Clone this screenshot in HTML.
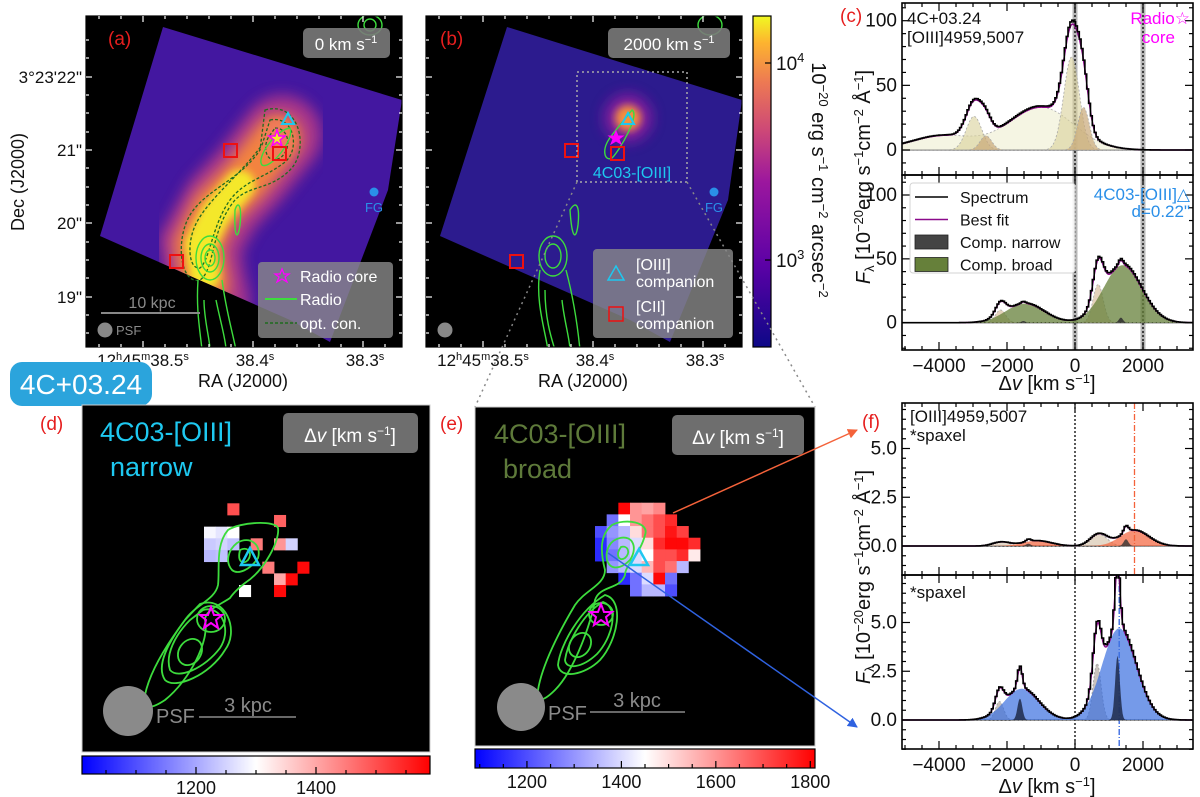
<!DOCTYPE html>
<html><head><meta charset="utf-8"><style>
html,body{margin:0;padding:0;background:#fff}
svg{display:block;font-family:"Liberation Sans","DejaVu Sans",sans-serif}
</style></head><body>
<svg id="fig" width="1200" height="797" viewBox="0 0 1200 797" xmlns="http://www.w3.org/2000/svg">
<defs>
<filter id="blur6" x="-50%" y="-50%" width="200%" height="200%"><feGaussianBlur stdDeviation="7"/></filter>
<filter id="blur3" x="-50%" y="-50%" width="200%" height="200%"><feGaussianBlur stdDeviation="4"/></filter>
<linearGradient id="plasma" x1="0" y1="1" x2="0" y2="0">
<stop offset="0" stop-color="#0d0887"/><stop offset="0.25" stop-color="#5c01a6"/><stop offset="0.5" stop-color="#9c179e"/><stop offset="0.65" stop-color="#cc4778"/><stop offset="0.8" stop-color="#ed7953"/><stop offset="0.92" stop-color="#fdb42f"/><stop offset="1" stop-color="#f0f921"/></linearGradient>
<linearGradient id="bwr" x1="0" y1="0" x2="1" y2="0"><stop offset="0" stop-color="#0000ff"/><stop offset="0.5" stop-color="#ffffff"/><stop offset="1" stop-color="#ff0000"/></linearGradient>
<linearGradient id="bwr2" x1="0" y1="0" x2="1" y2="0"><stop offset="0" stop-color="#0000ff"/><stop offset="0.5" stop-color="#ffffff"/><stop offset="1" stop-color="#ff0000"/></linearGradient>
<clipPath id="clipA"><rect x="86" y="16" width="316" height="331"/></clipPath>
<clipPath id="clipB"><rect x="426" y="16" width="316" height="331"/></clipPath>
<clipPath id="fieldA"><polygon points="163,27 402,100 388,190 330,342 290,320 100,236"/></clipPath>
<clipPath id="fieldB"><polygon points="507,27 742,100 728,200 670,342 630,320 440,236"/></clipPath>
<clipPath id="clipC1"><rect x="902" y="3" width="291" height="172"/></clipPath>
<clipPath id="clipC2"><rect x="902" y="175" width="291" height="175"/></clipPath>
<clipPath id="clipF1"><rect x="902" y="403" width="291" height="172"/></clipPath>
<clipPath id="clipF2"><rect x="902" y="575" width="291" height="174"/></clipPath>
<marker id="arrR" markerWidth="10" markerHeight="10" refX="9" refY="5" orient="auto" markerUnits="userSpaceOnUse"><path d="M0,0 L10,5 L0,10 z" fill="#f4623a"/></marker>
<marker id="arrB" markerWidth="10" markerHeight="10" refX="9" refY="5" orient="auto" markerUnits="userSpaceOnUse"><path d="M0,0 L10,5 L0,10 z" fill="#2f62e0"/></marker>
</defs>

<!-- Panel (a) -->
<g>
<rect x="86" y="16" width="316" height="331" fill="#000"/>
<g clip-path="url(#clipA)">
<polygon points="163,27 402,100 388,190 330,342 290,320 100,236" fill="#4317a0"/>
<g clip-path="url(#fieldA)">
<polyline points="282,135 250,175 222,205 200,245 205,280 210,300" fill="none" stroke="#c13c86" stroke-width="80" stroke-linecap="round" filter="url(#blur6)" opacity="0.8"/>
<polyline points="278,138 245,180 215,210 198,245 205,285" fill="none" stroke="#f3833f" stroke-width="48" stroke-linecap="round" filter="url(#blur6)"/>
<polyline points="240,185 215,215 200,245 205,275" fill="none" stroke="#f4e82a" stroke-width="30" stroke-linecap="round" filter="url(#blur3)"/>
<ellipse cx="278" cy="140" rx="16" ry="20" fill="#f07a5c" filter="url(#blur3)"/>
</g>
<g fill="none" stroke="#1f6b1f" stroke-width="1.3" stroke-dasharray="3,2">
<path d="M265,110 C300,100 310,150 290,170 C270,190 250,185 235,200 C210,230 215,270 200,280 C180,285 175,240 190,215 C205,190 240,180 260,150 Z"/>
<path d="M270,120 C295,115 300,150 285,162 C265,178 245,180 230,200 C212,225 210,260 200,268 C188,270 186,240 198,220 C212,196 240,175 262,145 Z"/>
<path d="M275,128 C290,128 292,150 280,158 C268,165 262,150 268,138 Z"/>
</g>
<g fill="none" stroke="#3ddc3d" stroke-width="1.4">
<path d="M290,128 C295,140 270,170 262,165 C256,158 275,130 290,128 Z"/>
<ellipse cx="210" cy="258" rx="14" ry="22"/><ellipse cx="210" cy="258" rx="9" ry="14"/><ellipse cx="210" cy="258" rx="5" ry="8"/>
<path d="M198,280 C196,310 200,330 202,350 M222,280 C226,310 232,330 236,350 M204,300 C204,320 210,340 210,350 M216,300 C220,320 226,340 226,350"/>
<path d="M235,210 C238,200 242,205 240,225 C238,240 234,240 235,210 Z"/>
<ellipse cx="370" cy="25" rx="12" ry="10"/><ellipse cx="370" cy="25" rx="6" ry="6"/>
</g>
</g>
<polygon points="288,113 282,124 294,124" fill="none" stroke="#1ec8f0" stroke-width="2"/>
<polygon points="277,130 279,136 285,136 280,140 282,146 277,142 272,146 274,140 269,136 275,136" fill="#f4e82a" stroke="#ff00ff" stroke-width="1.5"/>
<rect x="224" y="144" width="13" height="13" fill="none" stroke="#ee1111" stroke-width="2"/>
<rect x="273" y="147" width="13" height="13" fill="none" stroke="#ee1111" stroke-width="2"/>
<rect x="170" y="255" width="13" height="13" fill="none" stroke="#ee1111" stroke-width="2"/>
<circle cx="374" cy="192" r="4.5" fill="#2a8fe8"/>
<text x="374" y="212" font-size="13" fill="#2a8fe8" text-anchor="middle">FG</text>
<rect x="303" y="28" width="87" height="30" rx="5" fill="#7a7a7a" opacity="0.9"/>
<text x="346" y="50" font-size="17" fill="#fff" text-anchor="middle">0 km s<tspan dy="-7" font-size="11">−1</tspan></text>
<text x="108" y="45" font-size="19" fill="#e61e1e">(a)</text>
<line x1="101" y1="313" x2="200" y2="313" stroke="#888" stroke-width="2"/>
<text x="152" y="308" font-size="16" fill="#8a8a8a" text-anchor="middle">10 kpc</text>
<circle cx="105" cy="330" r="7.5" fill="#888"/>
<text x="116" y="335" font-size="13" fill="#8a8a8a">PSF</text>
<g>
<rect x="258" y="262" width="135" height="76" rx="4" fill="#8a8a8a" opacity="0.8"/>
<polygon points="282,269 284,274 289,274 285,277 287,282 282,279 277,282 279,277 275,274 280,274" fill="none" stroke="#ff00ff" stroke-width="1.3"/>
<text x="300" y="282" font-size="16" fill="#fff">Radio core</text>
<line x1="265" y1="299" x2="297" y2="299" stroke="#3ddc3d" stroke-width="2"/>
<text x="300" y="305" font-size="16" fill="#fff">Radio</text>
<line x1="265" y1="323" x2="297" y2="323" stroke="#1f6b1f" stroke-width="1.5" stroke-dasharray="3,2"/>
<text x="300" y="329" font-size="16" fill="#fff">opt. con.</text>
</g>
<rect x="86" y="16" width="316" height="331" fill="none" stroke="#000" stroke-width="1.2"/>
<g id="ticksA"></g>
<g font-size="17" fill="#111">
<text x="82" y="83" text-anchor="end">3°23'22"</text>
<text x="82" y="156" text-anchor="end">21"</text>
<text x="82" y="229" text-anchor="end">20"</text>
<text x="82" y="303" text-anchor="end">19"</text>
<text x="143" y="366" text-anchor="middle">12<tspan dy="-6" font-size="11">h</tspan><tspan dy="6">45</tspan><tspan dy="-6" font-size="11">m</tspan><tspan dy="6">38.5</tspan><tspan dy="-6" font-size="11">s</tspan></text>
<text x="255" y="366" text-anchor="middle">38.4<tspan dy="-6" font-size="11">s</tspan></text>
<text x="365" y="366" text-anchor="middle">38.3<tspan dy="-6" font-size="11">s</tspan></text>
<text x="243" y="387" text-anchor="middle" font-size="18">RA (J2000)</text>
<text transform="translate(24,182) rotate(-90)" text-anchor="middle" font-size="18">Dec (J2000)</text>
</g>
</g>

<!-- Panel (b) -->
<g>
<rect x="426" y="16" width="316" height="331" fill="#000"/>
<g clip-path="url(#clipB)">
<polygon points="507,27 742,100 728,200 670,342 630,320 440,236" fill="#2c1b8e"/>
<g clip-path="url(#fieldB)">
<circle cx="628" cy="118" r="24" fill="#8e1ca0" filter="url(#blur6)" opacity="0.9"/>
<circle cx="628" cy="118" r="13" fill="#f4913e" filter="url(#blur3)"/>
</g>
<g fill="none" stroke="#3ddc3d" stroke-width="1.4">
<path d="M632,110 C640,115 620,150 612,158 C605,162 600,150 612,135 Z"/>
<ellipse cx="553" cy="256" rx="14" ry="20"/><ellipse cx="553" cy="256" rx="8" ry="12"/>
<path d="M540,270 C535,300 545,330 548,350 M566,270 C574,300 578,330 580,350 M545,290 C545,320 552,340 555,350 M562,300 C564,320 570,340 570,350"/>
<path d="M570,210 C576,200 580,205 578,225 C576,240 572,240 570,210 Z"/>
<ellipse cx="710" cy="25" rx="12" ry="10"/>
</g>
</g>
<polygon points="628,113 622,124 634,124" fill="none" stroke="#1ec8f0" stroke-width="2"/>
<polygon points="616,131 618,136 623,136 619,139 621,144 616,141 611,144 613,139 609,136 614,136" fill="#ff00ff" stroke="#ff00ff" stroke-width="1"/>
<rect x="565" y="144" width="13" height="13" fill="none" stroke="#ee1111" stroke-width="2"/>
<rect x="611" y="147" width="13" height="13" fill="none" stroke="#ee1111" stroke-width="2"/>
<rect x="510" y="255" width="13" height="13" fill="none" stroke="#ee1111" stroke-width="2"/>
<circle cx="714" cy="192" r="4.5" fill="#2a8fe8"/>
<text x="714" y="212" font-size="13" fill="#2a8fe8" text-anchor="middle">FG</text>
<rect x="577" y="72" width="110" height="110" fill="none" stroke="#aaa" stroke-width="1.5" stroke-dasharray="2,3"/>
<text x="632" y="178" font-size="16" fill="#1ec8f0" text-anchor="middle">4C03-[OIII]</text>
<rect x="608" y="28" width="122" height="30" rx="5" fill="#7a7a7a" opacity="0.9"/>
<text x="669" y="50" font-size="17" fill="#fff" text-anchor="middle">2000 km s<tspan dy="-7" font-size="11">−1</tspan></text>
<text x="440" y="45" font-size="19" fill="#e61e1e">(b)</text>
<circle cx="445" cy="330" r="7.5" fill="#888"/>
<g>
<rect x="593" y="249" width="140" height="89" rx="4" fill="#8a8a8a" opacity="0.8"/>
<polygon points="616,266 608,280 624,280" fill="none" stroke="#1ec8f0" stroke-width="1.5"/>
<text x="636" y="270" font-size="16" fill="#fff">[OIII]</text><text x="636" y="287" font-size="16" fill="#fff">companion</text>
<rect x="609" y="307" width="14" height="14" fill="none" stroke="#ee1111" stroke-width="1.5"/>
<text x="636" y="312" font-size="16" fill="#fff">[CII]</text><text x="636" y="329" font-size="16" fill="#fff">companion</text>
</g>
<rect x="426" y="16" width="316" height="331" fill="none" stroke="#000" stroke-width="1.2"/>
<g id="ticksB"></g>
<g font-size="17" fill="#111">
<text x="483" y="366" text-anchor="middle">12<tspan dy="-6" font-size="11">h</tspan><tspan dy="6">45</tspan><tspan dy="-6" font-size="11">m</tspan><tspan dy="6">38.5</tspan><tspan dy="-6" font-size="11">s</tspan></text>
<text x="595" y="366" text-anchor="middle">38.4<tspan dy="-6" font-size="11">s</tspan></text>
<text x="705" y="366" text-anchor="middle">38.3<tspan dy="-6" font-size="11">s</tspan></text>
<text x="583" y="387" text-anchor="middle" font-size="18">RA (J2000)</text>
</g>
</g>

<!-- colorbar -->
<g>
<rect x="753" y="16" width="18" height="331" fill="url(#plasma)" stroke="#000" stroke-width="1.2"/>
<line x1="765" y1="63" x2="771" y2="63" stroke="#000" stroke-width="1.2"/>
<line x1="765" y1="260" x2="771" y2="260" stroke="#000" stroke-width="1.2"/>
<text x="776" y="70" font-size="19" fill="#111">10<tspan dy="-8" font-size="13">4</tspan></text>
<text x="776" y="267" font-size="19" fill="#111">10<tspan dy="-8" font-size="13">3</tspan></text>
<text transform="translate(812,180) rotate(90)" text-anchor="middle" font-size="20" fill="#111">10<tspan dy="-7" font-size="13">−20</tspan><tspan dy="7"> erg s</tspan><tspan dy="-7" font-size="13">−1</tspan><tspan dy="7"> cm</tspan><tspan dy="-7" font-size="13">−2</tspan><tspan dy="7"> arcsec</tspan><tspan dy="-7" font-size="13">−2</tspan></text>
</g>

<line x1="577" y1="182" x2="475" y2="407" stroke="#888" stroke-width="1.5" stroke-dasharray="2,4"/>
<line x1="687" y1="182" x2="815" y2="407" stroke="#888" stroke-width="1.5" stroke-dasharray="2,4"/>

<rect x="10" y="362" width="142" height="44" rx="12" fill="#2ba4dc"/>
<text x="81" y="394" font-size="28" fill="#fff" text-anchor="middle">4C+03.24</text>

<!-- Panel (d) -->
<g>
<rect x="82" y="405" width="348" height="347" fill="#000" stroke="#ccc" stroke-width="1"/>
<g id="cellsD"></g>
<g fill="none" stroke="#3ddc3d" stroke-width="1.8">
<path d="M228,530 C240,522 275,520 278,528 C280,540 265,570 245,583 C238,588 232,595 230,598 C220,605 205,610 205,620 C210,640 190,680 165,700 C150,710 140,710 145,695 C150,670 170,640 185,620 C195,605 215,600 218,585 C220,570 215,545 228,530 Z"/>
<path d="M237,543 C250,535 262,545 258,558 C250,570 238,575 232,570 C225,562 228,550 237,543 Z"/>
<path d="M240,550 C248,546 253,553 248,560 C243,565 237,562 240,550 Z"/>
<path d="M200,604 C225,595 240,630 225,650 C210,675 175,690 165,680 C155,665 170,640 185,620 Z"/>
<path d="M203,610 C222,605 232,630 220,648 C205,668 178,680 170,670 C165,655 175,635 190,620 Z"/>
<ellipse cx="211" cy="619" rx="14" ry="13"/>
<ellipse cx="190" cy="652" rx="11" ry="14" transform="rotate(35 190 652)"/>
</g>
<polygon points="250,548 241,565 259,565" fill="none" stroke="#1ec8f0" stroke-width="2.5"/>
<polygon points="211,607 214,615 222,615 216,620 218,628 211,623 204,628 206,620 200,615 208,615" fill="none" stroke="#ff00ff" stroke-width="2"/>
<circle cx="128" cy="711" r="25" fill="#8a8a8a"/>
<text x="156" y="723" font-size="20" fill="#8a8a8a">PSF</text>
<line x1="199" y1="717" x2="296" y2="717" stroke="#8a8a8a" stroke-width="1.5"/>
<text x="248" y="712" font-size="20" fill="#8a8a8a" text-anchor="middle">3 kpc</text>
<text x="100" y="441" font-size="27" fill="#1ec8f0">4C03-[OIII]</text>
<text x="110" y="476" font-size="27" fill="#1ec8f0">narrow</text>
<rect x="283" y="413" width="135" height="40" rx="5" fill="#6e6e6e"/>
<text x="350" y="442" font-size="19" fill="#fff" text-anchor="middle">Δ<tspan font-style="italic">v</tspan> [km s<tspan dy="-7" font-size="12">−1</tspan><tspan dy="7">]</tspan></text>
<text x="40" y="430" font-size="19" fill="#e61e1e">(d)</text>
<rect x="82" y="756" width="348" height="18" fill="url(#bwr)" stroke="#000" stroke-width="1.2"/>
<g id="cbD"></g>
</g>

<!-- Panel (e) -->
<g>
<rect x="475" y="407" width="340" height="339" fill="#000" stroke="#ccc" stroke-width="1"/>
<g id="cellsE"></g>
<g fill="none" stroke="#3ddc3d" stroke-width="1.8">
<path d="M612,525 C625,518 650,522 645,535 C640,555 625,565 625,575 C620,590 600,585 595,600 C592,620 575,670 555,690 C545,700 535,705 538,690 C542,665 560,630 575,605 C585,590 605,585 605,570 C600,550 600,535 612,525 Z"/>
<path d="M620,538 C633,535 638,548 630,560 C620,570 610,570 607,560 C605,550 610,540 620,538 Z"/>
<path d="M621,547 C628,545 631,553 625,558 C619,562 615,555 621,547 Z"/>
<path d="M605,595 C625,600 618,640 600,660 C585,675 560,680 558,665 C560,645 580,610 605,595 Z"/>
<path d="M603,602 C620,608 612,638 597,654 C582,668 566,670 565,660 C568,640 585,612 603,602 Z"/>
<ellipse cx="601" cy="614" rx="12" ry="11"/>
<ellipse cx="580" cy="645" rx="10" ry="13" transform="rotate(35 580 645)"/>
</g>
<polygon points="639,549 630,565 648,565" fill="none" stroke="#1ec8f0" stroke-width="2.5"/>
<polygon points="601,604 604,612 612,612 606,617 608,625 601,620 594,625 596,617 590,612 598,612" fill="none" stroke="#ff00ff" stroke-width="2"/>
<circle cx="521" cy="707" r="24" fill="#8a8a8a"/>
<text x="548" y="720" font-size="20" fill="#8a8a8a">PSF</text>
<line x1="590" y1="712" x2="685" y2="712" stroke="#8a8a8a" stroke-width="1.5"/>
<text x="637" y="707" font-size="20" fill="#8a8a8a" text-anchor="middle">3 kpc</text>
<text x="494" y="443" font-size="27" fill="#5e7a3a">4C03-[OIII]</text>
<text x="503" y="478" font-size="27" fill="#5e7a3a">broad</text>
<rect x="672" y="415" width="132" height="40" rx="5" fill="#6e6e6e"/>
<text x="738" y="444" font-size="19" fill="#fff" text-anchor="middle">Δ<tspan font-style="italic">v</tspan> [km s<tspan dy="-7" font-size="12">−1</tspan><tspan dy="7">]</tspan></text>
<text x="440" y="430" font-size="19" fill="#e61e1e">(e)</text>
<rect x="475" y="749" width="340" height="19" fill="url(#bwr2)" stroke="#000" stroke-width="1.2"/>
<g id="cbE"></g>
</g>
<line x1="673" y1="513" x2="857" y2="430" stroke="#f4623a" stroke-width="1.5" marker-end="url(#arrR)"/>
<line x1="608" y1="553" x2="857" y2="727" stroke="#2f62e0" stroke-width="1.5" marker-end="url(#arrB)"/>

<g id="specs"></g>
<g fill="#111">
<text x="840" y="22" font-size="19" fill="#e61e1e">(c)</text>
<text x="907" y="24" font-size="17">4C+03.24</text>
<text x="907" y="43" font-size="17">[OIII]4959,5007</text>
<text x="1190" y="24" font-size="17" fill="#ff00ff" text-anchor="end">Radio☆</text>
<text x="1175" y="43" font-size="17" fill="#ff00ff" text-anchor="end">core</text>
<text x="1190" y="200" font-size="17" fill="#2a8fe8" text-anchor="end">4C03-[OIII]△</text>
<text x="1190" y="217" font-size="17" fill="#2a8fe8" text-anchor="end">d=0.22"</text>
<text x="862" y="428" font-size="19" fill="#e61e1e">(f)</text>
<text x="910" y="422" font-size="17">[OIII]4959,5007</text>
<text x="910" y="441" font-size="17">*spaxel</text>
<text x="910" y="598" font-size="17">*spaxel</text>
<text x="1047" y="390" font-size="20" text-anchor="middle">Δ<tspan font-style="italic">v</tspan> [km s<tspan dy="-7" font-size="13">−1</tspan><tspan dy="7">]</tspan></text>
<text x="1047" y="793" font-size="20" text-anchor="middle">Δ<tspan font-style="italic">v</tspan> [km s<tspan dy="-7" font-size="13">−1</tspan><tspan dy="7">]</tspan></text>
<text transform="translate(870,177) rotate(-90)" font-size="20" text-anchor="middle"><tspan font-style="italic">F</tspan><tspan font-size="13" dy="4">λ</tspan><tspan dy="-4"> [10</tspan><tspan dy="-7" font-size="13">−20</tspan><tspan dy="7">erg s</tspan><tspan dy="-7" font-size="13">−1</tspan><tspan dy="7">cm</tspan><tspan dy="-7" font-size="13">−2</tspan><tspan dy="7"> Å</tspan><tspan dy="-7" font-size="13">−1</tspan><tspan dy="7">]</tspan></text>
<text transform="translate(870,577) rotate(-90)" font-size="20" text-anchor="middle"><tspan font-style="italic">F</tspan><tspan font-size="13" dy="4">λ</tspan><tspan dy="-4"> [10</tspan><tspan dy="-7" font-size="13">−20</tspan><tspan dy="7">erg s</tspan><tspan dy="-7" font-size="13">−1</tspan><tspan dy="7">cm</tspan><tspan dy="-7" font-size="13">−2</tspan><tspan dy="7"> Å</tspan><tspan dy="-7" font-size="13">−1</tspan><tspan dy="7">]</tspan></text>
</g>
</svg>
<script>
// ---- spectral data: components [center km/s, amplitude, sigma km/s]
const xTicks = [-4000, -2000, 0, 2000];
const cTopBroad = [[-1000, 33, 950], [-3870, 11, 950]];
const cTopNarrowA = [[-100, 72, 230], [-2970, 26, 230]];
const cTopNarrowB = [[250, 33, 170], [-2620, 11, 170]];
const cTopTicks = [0, 50, 100];
const cBotBroad = [[1400, 45, 560], [-1470, 15, 560]];
const cBotNarrow = [[1350, 4, 60], [-1520, 1.3, 60]];
const cBotOther = [[680, 30, 150], [-2190, 10, 150]];
const cBotTicks = [0, 50, 100];
const fTopBroad = [[1750, 0.8, 420], [-1120, 0.27, 420]];
const fTopNarrow = [[1500, 0.35, 70], [-1370, 0.12, 70]];
const fTopOther = [[700, 0.6, 250], [-2170, 0.2, 250]];
const fTopTicks = [0.0, 2.5, 5.0];
const fBotBroad = [[1300, 4.7, 500], [-1570, 1.6, 500]];
const fBotNarrow = [[1250, 3.3, 70], [-1620, 1.1, 70]];
const fBotOther = [[650, 2.9, 120], [-2220, 0.95, 120]];
const fBotTicks = [0.0, 2.5, 5.0];
const fTopVel = 1750, fBotVel = 1300;

// ---- map data: [col,row,value]
const dCells = [[2,0,1500],[6,1,1480],[0,2,1290],[1,2,1270],[2,2,1300],[0,3,1240],[1,3,1250],[2,3,1230],[0,4,1220],[1,4,1230],[4,3,1450],[6,3,1420],[7,3,1250],[5,5,1450],[8,5,1580],[6,6,1400],[7,6,1580],[6,7,1580],[3,7,1300]];
const eCells = [[2,0,1800],[3,0,1600],[4,0,1580],[5,0,1620],
[1,1,1250],[2,1,1450],[3,1,1600],[4,1,1650],[5,1,1700],[6,1,1750],
[0,2,1200],[1,2,1300],[2,2,1350],[3,2,1500],[4,2,1650],[5,2,1700],[6,2,1780],[7,2,1720],
[0,3,1150],[1,3,1280],[2,3,1350],[3,3,1400],[4,3,1500],[5,3,1750],[6,3,1800],[7,3,1800],[8,3,1750],
[0,4,1150],[1,4,1250],[2,4,1350],[3,4,1400],[4,4,1450],[5,4,1700],[6,4,1700],[7,4,1750],[8,4,1480],
[1,5,1300],[2,5,1350],[3,5,1400],[4,5,1550],[5,5,1700],[6,5,1650],[7,5,1350],
[2,6,1150],[3,6,1250],[4,6,1400],[5,6,1800],[6,6,1250],
[3,7,1250],[4,7,1350],[5,7,1350],[6,7,1200]];
const dTicks = [1200, 1400];
const eTicks = [1200, 1400, 1600, 1800];

const NS = 'http://www.w3.org/2000/svg';
function mk(tag, attrs, parent){const e=document.createElementNS(NS,tag);for(const k in attrs)e.setAttribute(k,attrs[k]);parent.appendChild(e);return e;}
const X = v => 1075 + v*0.034;
const XMIN=-5100, XMAX=3450;
function gsum(comps, v){let s=0;for(const c of comps)s+=c[1]*Math.exp(-0.5*((v-c[0])/c[2])**2);return s;}
function bwr(t){t=Math.max(0,Math.min(1,t));let r,g,b;if(t<0.5){r=g=Math.round(510*t);b=255;}else{r=255;g=b=Math.round(510*(1-t));}return `rgb(${r},${g},${b})`;}

function drawCells(id, cells, x0, y0, cs, vmin, vmax){
  const g=document.getElementById(id);
  for(const c of cells){
    const r=mk('rect',{x:x0+c[0]*cs,y:y0+c[1]*cs,width:cs+0.4,height:cs+0.4,fill:bwr((c[2]-vmin)/(vmax-vmin))},g);
    
    
  }
}
drawCells('cellsD', dCells, 204, 503.3, 11.67, 1010, 1590);
drawCells('cellsE', eCells, 595, 502.7, 11.67, 1090, 1810);

function cbTicks(id, ticks, x0, y0, h, vmin, vmax, w){
  const g=document.getElementById(id);
  for(let v=Math.ceil(vmin/50)*50; v<=vmax; v+=50){
    const x=x0+(v-vmin)/(vmax-vmin)*w;
    const major=ticks.includes(v);
    mk('line',{x1:x,x2:x,y1:y0+h,y2:y0+h-(major?7:4),stroke:'#000','stroke-width':1.2},g);
  }
  for(const v of ticks){
    const t=mk('text',{x:x0+(v-vmin)/(vmax-vmin)*w,y:y0+h+20,'font-size':18,'text-anchor':'middle',fill:'#111'},g);
    t.textContent=v;
    
    
  }
}
cbTicks('cbD', dTicks, 82, 756, 18, 1010, 1590, 348);
cbTicks('cbE', eTicks, 475, 749, 19, 1090, 1810, 340);

function mapTicks(id, x0){
  const g=document.getElementById(id);
  const ys=[77,150,223,297], xs=[143,253,363];
  for(const y of [40,58,77,95,113,132,150,168,187,205,223,242,260,278,297,315,333]){
    const maj=ys.includes(y);
    mk('line',{x1:x0,x2:x0+(maj?6:3),y1:y,y2:y,stroke:'#fff','stroke-width':1.2},g);
    mk('line',{x1:x0+316,x2:x0+316-(maj?6:3),y1:y,y2:y,stroke:'#fff','stroke-width':1.2},g);
  }
  for(let x=x0+13;x<x0+316;x+=22){
    const maj=xs.some(v=>Math.abs(v+x0-86-x)<4);
    mk('line',{x1:x,x2:x,y1:347,y2:347-(maj?6:3),stroke:'#fff','stroke-width':1.2},g);
    mk('line',{x1:x,x2:x,y1:16,y2:16+(maj?6:3),stroke:'#fff','stroke-width':1.2},g);
  }
}
mapTicks('ticksA',86); mapTicks('ticksB',426);

const specs=document.getElementById('specs');
function panel(opt){
  const {top,bot,ymin,ymax,zero,scale,clip,ticks,tickFmt,fills,name,showX,minorY,vlines}=opt;
  const Y=f=>zero - f*scale;
  const g=mk('g',{},specs);
  
  
  const cg=mk('g',{'clip-path':`url(#${clip})`},g);
  for(const vl of vlines){
    if(vl.band) mk('rect',{x:X(vl.v)-2.5,y:top,width:5,height:bot-top,fill:'#999',opacity:0.7},cg);
    mk('line',{x1:X(vl.v),x2:X(vl.v),y1:top,y2:bot,stroke:vl.c,'stroke-width':1.3,'stroke-dasharray':vl.d},cg);
  }
  mk('line',{x1:902,x2:1193,y1:Y(0),y2:Y(0),stroke:'#000','stroke-width':1.2},cg);
  for(const f of fills){
    let d=`M${X(XMIN)},${Y(0)}`;
    for(let v=XMIN; v<=XMAX; v+=25) d+=` L${X(v).toFixed(1)},${Y(gsum(f.comps,v)).toFixed(1)}`;
    d+=` L${X(XMAX)},${Y(0)} Z`;
    const p=mk('path',{d,fill:f.fill,'fill-opacity':f.op,stroke:f.stroke||'none','stroke-width':0.8,'stroke-dasharray':f.stroke?'2,2':''},cg);
    
    
  }
  const all=fills.flatMap(f=>f.comps);
  let d='';
  for(let v=XMIN; v<=XMAX; v+=20) d+=(d?' L':'M')+X(v).toFixed(1)+','+Y(gsum(all,v)).toFixed(1);
  const fit=mk('path',{d,fill:'none',stroke:'#8b0a8b','stroke-width':1.5},cg);
  
  
  let s='';
  for(let v=XMIN; v<=XMAX; v+=55){const f=gsum(all,v+27)*1.03; s+=(s?' L':'M')+X(v).toFixed(1)+','+Y(f).toFixed(1)+' L'+X(v+55).toFixed(1)+','+Y(f).toFixed(1);}
  const sp=mk('path',{d:s,fill:'none',stroke:'#000','stroke-width':1.6},cg);
  
  
  mk('rect',{x:902,y:top,width:291,height:bot-top,fill:'none',stroke:'#000','stroke-width':1.6},g);
  for(let v=-5000; v<=3400; v+=500){
    const maj=v%2000===0; const x=X(v); if(x<902||x>1193) continue;
    mk('line',{x1:x,x2:x,y1:bot,y2:bot-(maj?8:4),stroke:'#000','stroke-width':1.2},g);
    mk('line',{x1:x,x2:x,y1:top,y2:top+(maj?8:4),stroke:'#000','stroke-width':1.2},g);
  }
  for(let f=Math.ceil(ymin/minorY)*minorY; f<=ymax; f+=minorY){
    const maj=ticks.some(t=>Math.abs(t-f)<1e-6); const y=Y(f);
    mk('line',{x1:902,x2:902+(maj?8:4),y1:y,y2:y,stroke:'#000','stroke-width':1.2},g);
    mk('line',{x1:1193,x2:1193-(maj?8:4),y1:y,y2:y,stroke:'#000','stroke-width':1.2},g);
  }
  for(const t of ticks){
    const e=mk('text',{x:897,y:Y(t)+6,'font-size':19,'text-anchor':'end',fill:'#111'},g);
    e.textContent=tickFmt(t);
    
    
  }
  if(showX){
    for(const t of xTicks){
      const e=mk('text',{x:X(t),y:bot+22,'font-size':19,'text-anchor':'middle',fill:'#111'},g);
      e.textContent=(t<0?'−':'')+Math.abs(t);
      
      
    }
  }
  return g;
}
const vDot=[{v:0,c:'#000',d:'2,2',band:true},{v:2000,c:'#000',d:'2,2',band:true}];
panel({name:'spectrum-c-top',top:3,bot:175,ymin:-19,ymax:114,zero:150,scale:1.293,clip:'clipC1',ticks:cTopTicks,tickFmt:t=>t,minorY:10,showX:false,vlines:vDot,
  fills:[{comps:cTopBroad,fill:'#eeeed0',op:0.6,stroke:'#aaa',name:'broad-component'},{comps:cTopNarrowA,fill:'#d8d09a',op:0.6,stroke:'#aaa',name:'narrow-component-a'},{comps:cTopNarrowB,fill:'#c9a878',op:0.7,stroke:'#aaa',name:'narrow-component-b'}]});
panel({name:'spectrum-c-bottom',top:175,bot:350,ymin:-21,ymax:115,zero:322.7,scale:1.277,clip:'clipC2',ticks:cBotTicks,tickFmt:t=>t,minorY:10,showX:true,vlines:vDot,
  fills:[{comps:cBotOther,fill:'#d9bf9e',op:0.7,stroke:'#aaa',name:'other-component'},{comps:cBotBroad,fill:'#66803a',op:0.75,name:'comp-broad'},{comps:cBotNarrow,fill:'#333',op:0.9,name:'comp-narrow'}]});
panel({name:'spectrum-f-top',top:403,bot:575,ymin:-1.5,ymax:7.3,zero:546,scale:19.5,clip:'clipF1',ticks:fTopTicks,tickFmt:t=>t.toFixed(1),minorY:0.5,showX:false,
  vlines:[{v:0,c:'#000',d:'2,2'},{v:fTopVel,c:'#f4623a',d:'6,2,1,2'}],
  fills:[{comps:fTopOther,fill:'#d9c8b0',op:0.7,stroke:'#999',name:'other-component'},{comps:fTopBroad,fill:'#f4623a',op:0.7,name:'comp-broad'},{comps:fTopNarrow,fill:'#333',op:0.8,name:'comp-narrow'}]});
panel({name:'spectrum-f-bottom',top:575,bot:749,ymin:-1.5,ymax:7.4,zero:720,scale:19.5,clip:'clipF2',ticks:fBotTicks,tickFmt:t=>t.toFixed(1),minorY:0.5,showX:true,
  vlines:[{v:0,c:'#000',d:'2,2'},{v:fBotVel,c:'#2f62e0',d:'6,2,1,2'}],
  fills:[{comps:fBotOther,fill:'#bbb3ad',op:0.8,stroke:'#999',name:'other-component'},{comps:fBotBroad,fill:'#3a6fe0',op:0.7,name:'comp-broad'},{comps:fBotNarrow,fill:'#1e2a4a',op:0.85,name:'comp-narrow'}]});

const lg=mk('g',{},specs);


mk('rect',{x:910,y:183,width:165,height:90,rx:3,fill:'#fff',opacity:0.85,stroke:'#ccc'},lg);
const items=[['Spectrum','line','#000'],['Best fit','line','#8b0a8b'],['Comp. narrow','box','#444'],['Comp. broad','box','#66803a']];
items.forEach((it,i)=>{
  const y=197+i*22.5;
  if(it[1]==='line') mk('line',{x1:915,x2:948,y1:y,y2:y,stroke:it[2],'stroke-width':1.6},lg);
  else mk('rect',{x:915,y:y-7,width:33,height:14,fill:it[2],stroke:'#222','stroke-width':0.8},lg);
  const t=mk('text',{x:960,y:y+6,'font-size':16,fill:'#111'},lg);
  t.textContent=it[0];
  
  
});
</script>
</body></html>
